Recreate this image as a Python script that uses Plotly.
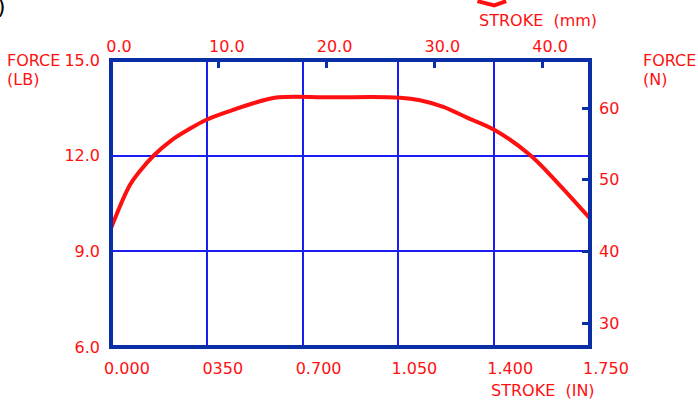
import plotly.graph_objects as go

# force vs stroke curve
stroke_in = [0.0, 0.069, 0.106, 0.158, 0.222, 0.283, 0.347, 0.441, 0.538, 0.611,
             0.80, 1.056, 1.129, 1.214, 1.299, 1.403, 1.531, 1.628, 1.75]
force_lb = [9.72, 11.08, 11.52, 12.02, 12.49, 12.82, 13.12, 13.42, 13.69, 13.83,
            13.83, 13.82, 13.74, 13.53, 13.20, 12.80, 12.02, 11.18, 10.03]

in_ticks = [0, 0.35, 0.7, 1.05, 1.4, 1.75]
in_labels = ['0.000', '0350', '0.700', '1.050', '1.400', '1.750']
lb_ticks = [6, 9, 12, 15]
lb_labels = ['6.0', '9.0', '12.0', '15.0']
mm_ticks = [0, 10, 20, 30, 40]
mm_labels = ['0.0', '10.0', '20.0', '30.0', '40.0']
n_ticks = [30, 40, 50, 60]
n_labels = ['30', '40', '50', '60']

LBF_TO_N = 4.448222
IN_TO_MM = 25.4

RED = '#ff1010'
NAVY = '#0a2ea6'
GRID = '#1c1cf5'
FONT = 'DejaVu Sans'

fig = go.Figure()

fig.add_trace(go.Scatter(x=stroke_in, y=force_lb, mode='lines',
                         line=dict(color=RED, width=4, shape='spline', smoothing=1.0),
                         showlegend=False, hoverinfo='skip'))

# empty trace so the secondary axes get drawn
fig.add_trace(go.Scatter(x=[None], y=[None], xaxis='x2', yaxis='y2', showlegend=False))

tick_font = dict(family=FONT, size=16, color=RED)

fig.update_layout(
    width=698, height=409,
    margin=dict(l=111, r=108, t=60, b=62),
    plot_bgcolor='white', paper_bgcolor='white',
    xaxis=dict(range=[0, 1.75], tickvals=in_ticks, ticktext=in_labels,
               showgrid=True, gridcolor=GRID, gridwidth=2, zeroline=False,
               ticks='', tickfont=tick_font, ticklabelshift=16, ticklabelstandoff=10),
    yaxis=dict(range=[6, 15], tickvals=lb_ticks, ticktext=lb_labels,
               showgrid=True, gridcolor=GRID, gridwidth=2, zeroline=False,
               ticks='', tickfont=tick_font, ticklabelstandoff=10),
    xaxis2=dict(overlaying='x', side='top', range=[0, 1.75 * IN_TO_MM],
                tickvals=mm_ticks, ticktext=mm_labels, showgrid=False, zeroline=False,
                ticks='inside', ticklen=8, tickwidth=3, tickcolor=NAVY,
                tickfont=tick_font, ticklabelshift=8, ticklabelstandoff=4),
    yaxis2=dict(overlaying='y', side='right', range=[6 * LBF_TO_N, 15 * LBF_TO_N],
                tickvals=n_ticks, ticktext=n_labels, showgrid=False, zeroline=False,
                ticks='inside', ticklen=8, tickwidth=3, tickcolor=NAVY,
                tickfont=tick_font, ticklabelstandoff=8),
)

# plot frame
fig.add_shape(type='rect', xref='paper', yref='paper', x0=0, y0=0, x1=1, y1=1,
              line=dict(color=NAVY, width=4))

# clipped red mark at the very top
fig.add_shape(type='path', xref='paper', yref='paper',
              path='M 0.765,1.205 L 0.80,1.19 L 0.825,1.205',
              line=dict(color=RED, width=4))

title_font = dict(family=FONT, size=16, color=RED)


def label(text, x, y, xanchor='left', color=None, size=16):
    f = dict(title_font)
    f['size'] = size
    if color:
        f['color'] = color
    fig.add_annotation(text=text, x=x, y=y, xref='paper', yref='paper',
                       xanchor=xanchor, yanchor='middle', showarrow=False, font=f)


label('FORCE', -0.222, 1.0)
label('(LB)', -0.222, 0.932)
label('FORCE', 1.106, 1.0)
label('(N)', 1.106, 0.932)
label('STROKE  (mm)', 0.8914, 1.139, xanchor='center')
label('STROKE  (IN)', 0.9029, -0.1533, xanchor='center')
label(')', -0.243, 1.185, color='black', size=22)

# the page's default body margin would shift the figure by 8px
fig.write_html("out.html", config={'displayModeBar': False},
               post_script="document.body.style.margin='0';")
